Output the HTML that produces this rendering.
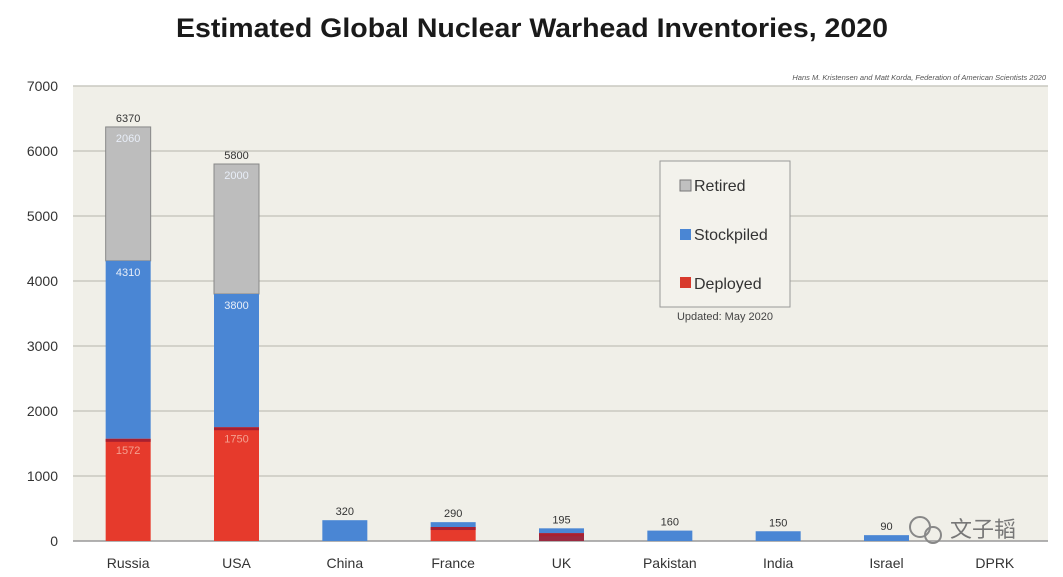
<!DOCTYPE html>
<html><head><meta charset="utf-8"><style>
html,body{margin:0;padding:0;background:#fff;width:1063px;height:577px;overflow:hidden}
svg{display:block;font-family:"Liberation Sans","Noto Sans CJK SC",sans-serif}
</style></head><body>
<svg id="chart" width="1063" height="577" viewBox="0 0 1063 577">
<text x="532" y="37" text-anchor="middle" font-size="27" font-weight="bold" fill="#1a1a1a" textLength="712" lengthAdjust="spacingAndGlyphs">Estimated Global Nuclear Warhead Inventories, 2020</text>
<rect x="73" y="86" width="975" height="455" fill="#f0efe8"/>
<text x="1046" y="80" text-anchor="end" font-size="7.5" font-style="italic" fill="#555">Hans M. Kristensen and Matt Korda, Federation of American Scientists 2020</text>
<g id="grid"></g><g id="bars"></g><g id="axes"></g>
<g>
<rect x="660" y="161" width="130" height="146" fill="#f3f2ec" stroke="#999" stroke-width="1"/>
<rect x="680" y="180" width="11" height="11" fill="#c0c0c0" stroke="#777"/>
<text x="694" y="191" font-size="16" fill="#333">Retired</text>
<rect x="680" y="229" width="11" height="11" fill="#4a86d4"/>
<text x="694" y="240" font-size="16" fill="#333">Stockpiled</text>
<rect x="680" y="277" width="11" height="11" fill="#d83a2c"/>
<text x="694" y="289" font-size="16" fill="#333">Deployed</text>
</g>
<text x="725" y="320" text-anchor="middle" font-size="11" fill="#444">Updated: May 2020</text>
<g>
<circle cx="920" cy="527" r="10" fill="none" stroke="#888" stroke-width="2"/>
<circle cx="933" cy="535" r="8" fill="none" stroke="#888" stroke-width="2"/>
<text x="950" y="537" font-size="22" fill="#777">文子韬</text>
</g>
</svg>
<script>
const categories=["Russia","USA","China","France","UK","Pakistan","India","Israel","DPRK"];
const deployed=[1572,1750,0,215,120,0,0,0,0];
const stockpiled=[4310,3800,320,290,195,160,150,90,0];
const totals=[6370,5800,320,290,195,160,150,90,0];
const yTicks=[0,1000,2000,3000,4000,5000,6000,7000];
const insideRetired=["2060","2000"];
const insideStock=["4310","3800"];
const insideDep=["1572","1750"];
const X0=73,X1=1048,Y0=541,Y1=86,YMAX=7000;
const y=v=>Y0-(v/YMAX)*(Y0-Y1);
const band=(X1-X0)/categories.length;
const xc=i=>X0+band*(i+0.5)+1;
const NS="http://www.w3.org/2000/svg";
function mk(t,a,p){const e=document.createElementNS(NS,t);for(const k in a)e.setAttribute(k,a[k]);p.appendChild(e);return e;}
const grid=document.getElementById('grid'),bars=document.getElementById('bars'),axes=document.getElementById('axes');
yTicks.forEach(v=>{
 const l=mk('line',{x1:X0,x2:X1,y1:y(v),y2:y(v),stroke:v===0?'#999':'#c9c8c0','stroke-width':1.5},grid);
 
 
 const t=mk('text',{x:58,y:y(v)+5,'text-anchor':'end','font-size':14,fill:'#333'},axes);
 t.textContent=v;
 
 
});
const W=45;
categories.forEach((c,i)=>{
 const cx=xc(i),x=cx-W/2;
 const d=deployed[i],s=stockpiled[i],tot=totals[i];
 if(tot>s){const r=mk('rect',{x:x,y:y(tot),width:W,height:y(s)-y(tot),fill:'#bdbdbd',stroke:'#888','stroke-width':1},bars);
  
  }
 if(s>d){const r=mk('rect',{x:x,y:y(s),width:W,height:y(d)-y(s),fill:'#4a86d4'},bars);
  
  }
 if(d>0){const r=mk('rect',{x:x,y:y(d),width:W,height:Y0-y(d),fill:i===4?'#9a2a40':'#e63a2c'},bars);
  
  
  mk('rect',{x:x,y:y(d),width:W,height:3,fill:'#a82030'},bars);}
 if(tot>0){const t=mk('text',{x:cx,y:y(tot)-5,'text-anchor':'middle','font-size':11,fill:'#333'},bars);
  t.textContent=tot;
  
  }
 if(i<2){
  [[insideRetired[i],tot],[insideStock[i],s],[insideDep[i],d]].forEach(([lab,v],k)=>{
   const t=mk('text',{x:cx,y:y(v)+15,'text-anchor':'middle','font-size':11,fill:k===2?'#f4a090':'#e8eef8'},bars);
   t.textContent=lab;
   
   
  });
 }
 const t=mk('text',{x:cx,y:568,'text-anchor':'middle','font-size':14,fill:'#333'},axes);
 t.textContent=c;
 
 
});
</script>
</body></html>
